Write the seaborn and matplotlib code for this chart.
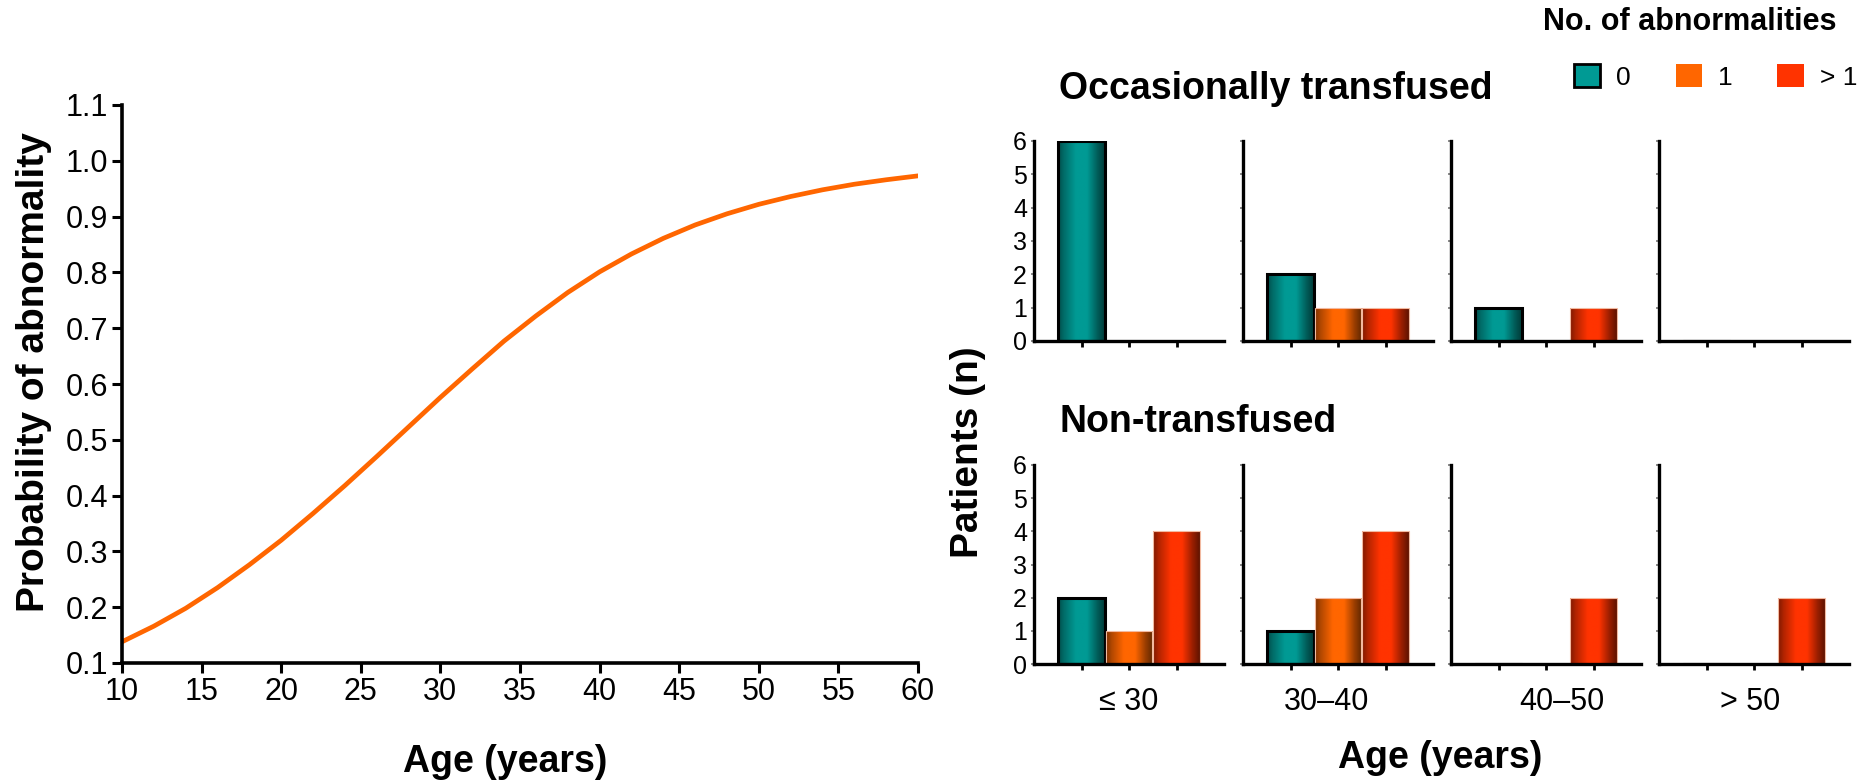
import numpy as np
import pandas as pd
import matplotlib
matplotlib.use('Agg')
import matplotlib.pyplot as plt
import matplotlib.colors as mcolors
from matplotlib.patches import Patch
import seaborn as sns

# curve
age = [10, 12, 14, 16, 18, 20, 22, 24, 26, 28, 30, 32, 34, 36, 38, 40, 42, 44, 46, 48, 50, 52, 54, 56, 58, 60]
prob = [0.138, 0.166, 0.198, 0.235, 0.276, 0.320, 0.368, 0.418, 0.470, 0.523, 0.576, 0.627, 0.677,
        0.722, 0.764, 0.801, 0.833, 0.861, 0.885, 0.905, 0.922, 0.936, 0.948, 0.958, 0.966, 0.973]

# patient counts per age group
age_groups = ['≤ 30', '30–40', '40–50', '> 50']
abn_levels = ['0', '1', '> 1']
occ_0 = [6, 2, 1, 0]
occ_1 = [0, 1, 0, 0]
occ_gt1 = [0, 1, 1, 0]
non_0 = [2, 1, 0, 0]
non_1 = [1, 2, 0, 0]
non_gt1 = [4, 4, 2, 2]

groups = ['Occasionally transfused', 'Non-transfused']
colors = {'0': '#009a94', '1': '#ff6600', '> 1': '#ff3300'}

rows = []
for grp, series in zip(groups, [(occ_0, occ_1, occ_gt1), (non_0, non_1, non_gt1)]):
    for lvl, vals in zip(abn_levels, series):
        for ag, v in zip(age_groups, vals):
            rows.append({'group': grp, 'age': ag, 'abn': lvl, 'n': v})
df = pd.DataFrame(rows)

sns.set_style('ticks')
plt.rcParams['font.family'] = ['Liberation Sans', 'DejaVu Sans']
for k in ['text.color', 'axes.labelcolor', 'xtick.color', 'ytick.color', 'axes.edgecolor']:
    plt.rcParams[k] = 'black'

W, H = 1866, 784
fig = plt.figure(figsize=(W / 100, H / 100), dpi=100)


def box(x0, y0, x1, y1):
    return [x0 / W, 1 - y1 / H, (x1 - x0) / W, (y1 - y0) / H]


def shade(color, n=80):
    base = np.array(mcolors.to_rgb(color))
    t = np.linspace(0, 1, n)
    f = np.interp(t, [0, 0.12, 0.38, 0.62, 0.85, 1.0], [0.5, 0.7, 1.0, 1.0, 0.6, 0.38])
    return np.clip(base[None, :] * f[:, None], 0, 1)[None, :, :]


# left panel: probability curve
ax = fig.add_axes(box(122, 105, 918, 663))
sns.lineplot(x=age, y=prob, ax=ax, color='#ff6600', linewidth=3.4)
ax.set_xlim(10, 60)
ax.set_ylim(0.1, 1.1)
ax.set_xticks(np.arange(10, 61, 5))
ax.set_yticks(np.round(np.arange(0.1, 1.11, 0.1), 1))
ax.set_yticklabels([f'{v:.1f}' for v in np.arange(0.1, 1.11, 0.1)])
ax.tick_params(labelsize=22, length=7, width=2.2, pad=3)
for s in ['top', 'right']:
    ax.spines[s].set_visible(False)
for s in ['left', 'bottom']:
    ax.spines[s].set_linewidth(2.6)
ax.set_xlabel('')
ax.set_ylabel('')
fig.text(34 / W, 1 - 372 / H, 'Probability of abnormality', rotation=90, ha='center', va='center',
         fontsize=28, fontweight='bold')
fig.text(505 / W, 1 - 762 / H, 'Age (years)', ha='center', va='center', fontsize=27, fontweight='bold')

# right panels: bar charts
lefts = [1034, 1243, 1451, 1659]
row_y = [(141, 341), (465, 664)]
label_x = [0.5, 0.44, 0.585, 0.48]

for r, grp in enumerate(groups):
    for c, ag in enumerate(age_groups):
        y0, y1 = row_y[r]
        a = fig.add_axes(box(lefts[c], y0, lefts[c] + 190, y1))
        sub = df[(df['group'] == grp) & (df['age'] == ag)]
        sns.barplot(data=sub, x='abn', y='n', hue='abn', order=abn_levels, hue_order=abn_levels,
                    palette=colors, saturation=1, width=0.98, legend=False, ax=a, errorbar=None, dodge=False)
        for p in list(a.patches):
            h = p.get_height()
            fc = mcolors.to_hex(p.get_facecolor())
            teal = fc == colors['0']
            if h > 0:
                x = p.get_x()
                im = a.imshow(shade(fc), extent=[x, x + p.get_width(), 0, h], aspect='auto',
                              interpolation='bilinear', origin='lower', zorder=1.5)
                im.set_clip_path(p)
            p.set_facecolor('none')
            p.set_zorder(2)
            if teal:
                p.set_edgecolor('black')
                p.set_linewidth(2.2)
            else:
                p.set_edgecolor('#f2b9a0')
                p.set_linewidth(0.8)
        a.set_xlim(-1.0, 3.0)
        a.set_ylim(0, 6)
        a.set_yticks(range(7))
        a.set_xlabel('')
        a.set_ylabel('')
        for s in ['top', 'right']:
            a.spines[s].set_visible(False)
        for s in ['left', 'bottom']:
            a.spines[s].set_linewidth(2.4)
        a.tick_params(axis='x', length=4, width=2, labelbottom=False)
        a.tick_params(axis='y', length=2, width=1.2, color='#777777', pad=3, labelsize=18)
        if c > 0:
            a.tick_params(axis='y', labelleft=False)
        if r == 1:
            a.text(label_x[c], -0.19, ag, transform=a.transAxes, ha='center', va='center', fontsize=22)

fig.text(1059 / W, 1 - 89 / H, groups[0], ha='left', va='center', fontsize=27, fontweight='bold')
fig.text(1059 / W, 1 - 422 / H, groups[1], ha='left', va='center', fontsize=27, fontweight='bold')
fig.text(968 / W, 1 - 452 / H, 'Patients (n)', rotation=90, ha='center', va='center', fontsize=28, fontweight='bold')
fig.text(1440 / W, 1 - 758 / H, 'Age (years)', ha='center', va='center', fontsize=27, fontweight='bold')

# legend
fig.text(1543 / W, 1 - 22 / H, 'No. of abnormalities', ha='left', va='center', fontsize=22, fontweight='bold')
handles = [Patch(facecolor=colors['0'], edgecolor='black', linewidth=2),
           Patch(facecolor=colors['1'], edgecolor='none'),
           Patch(facecolor=colors['> 1'], edgecolor='none')]
fig.legend(handles, abn_levels, loc='center left', bbox_to_anchor=(1574 / W, 1 - 77 / H), ncol=3,
           frameon=False, fontsize=19, handlelength=1.0, handleheight=0.95, handletextpad=0.6,
           columnspacing=1.7, borderpad=0, borderaxespad=0)

fig.savefig('out.png', dpi=100)
